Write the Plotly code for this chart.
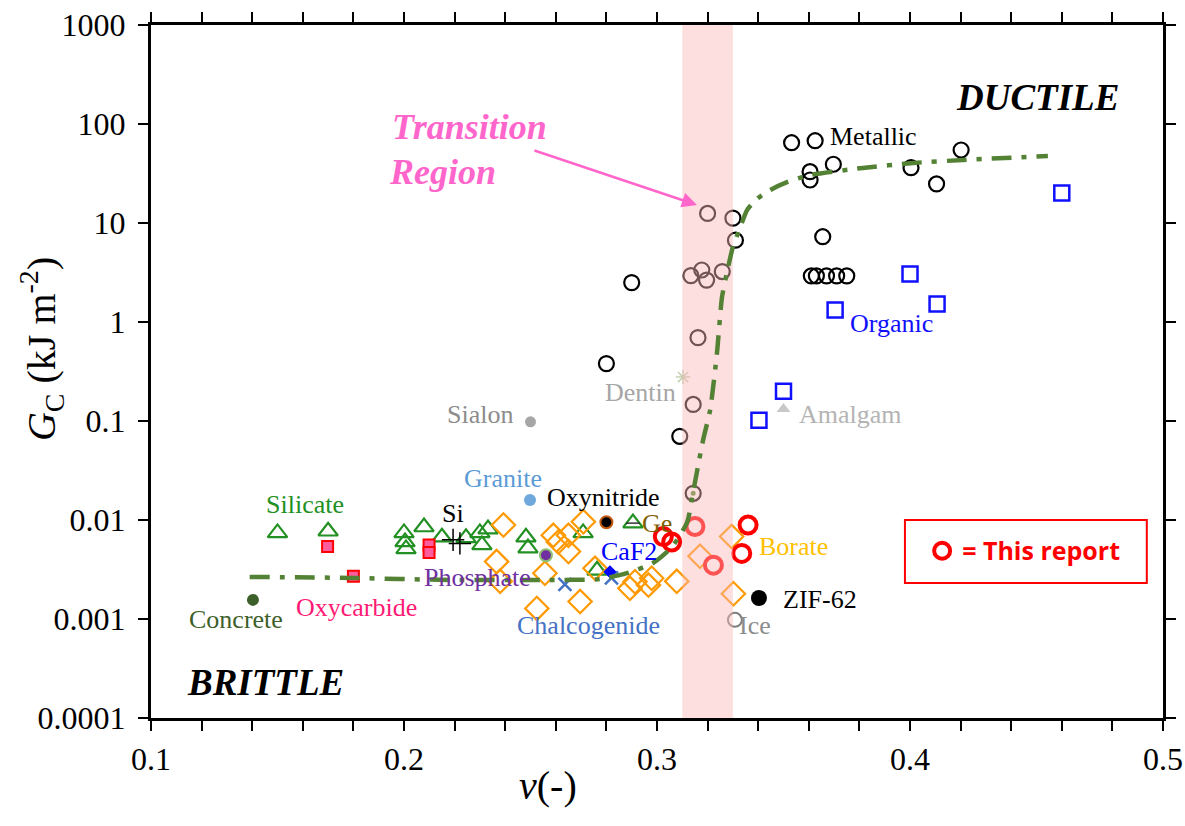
import numpy as np
import plotly.graph_objects as go

# ---------------- data ----------------
x_ticks = [0.1, 0.2, 0.3, 0.4, 0.5]
x_ticktext = ["0.1", "0.2", "0.3", "0.4", "0.5"]
y_ticks = [1e-4, 1e-3, 1e-2, 1e-1, 1, 10, 100, 1000]
y_ticktext = ["0.0001", "0.001", "0.01", "0.1", "1", "10", "100", "1000"]

metal_nu = [0.280, 0.290, 0.309, 0.3143, 0.3162, 0.3134, 0.3177, 0.3196, 0.3258,
            0.320, 0.330, 0.331, 0.3532, 0.3625, 0.3605, 0.3605, 0.3697, 0.3655,
            0.361, 0.363, 0.367, 0.371, 0.375, 0.4004, 0.4105, 0.4202]
metal_gc = [0.38, 2.5, 0.07, 0.147, 0.695, 2.94, 3.35, 2.65, 3.23,
            12.5, 11.2, 6.7, 64.7, 67.8, 33.0, 27.2, 39.2, 7.27,
            2.92, 2.92, 2.92, 2.92, 2.92, 36.2, 24.8, 54.6]

dot_nu = [0.3143]
dot_gc = [0.0186]

organic_nu = [0.3403, 0.350, 0.3704, 0.400, 0.4107, 0.460]
organic_gc = [0.102, 0.200, 1.32, 3.05, 1.52, 20.1]

silicate_nu = [0.150, 0.170, 0.200, 0.2004, 0.2008, 0.2079, 0.2150, 0.2245, 0.2300,
               0.2308, 0.2332, 0.2482, 0.2490, 0.2708, 0.2763]
silicate_gc = [0.0074, 0.0077, 0.0074, 0.0060, 0.0051, 0.0085, 0.0067, 0.0066, 0.0074,
               0.0056, 0.0081, 0.0067, 0.0052, 0.0074, 0.0031]

borate_nu = [0.2366, 0.2380, 0.2393, 0.2525, 0.2557, 0.2590, 0.2610, 0.2650, 0.2650,
             0.2696, 0.2709, 0.2755, 0.2893, 0.2913, 0.2966, 0.2979, 0.3078, 0.3170,
             0.3295, 0.3302]
borate_gc = [0.0038, 0.0024, 0.0089, 0.00128, 0.0029, 0.0070, 0.0060, 0.0070, 0.0048,
             0.0015, 0.0096, 0.00325, 0.00204, 0.00238, 0.0022, 0.00258, 0.0024, 0.0043,
             0.0068, 0.0018]

oxycarbide_nu = [0.1698, 0.180, 0.2099, 0.2099]
oxycarbide_gc = [0.0054, 0.0027, 0.0056, 0.0047]

report_nu = [0.3025, 0.3058, 0.3150, 0.3223, 0.3335, 0.3360]
report_gc = [0.0068, 0.0060, 0.0086, 0.0035, 0.0046, 0.0089]

si_nu = [0.2194, 0.2221]
si_gc = [0.0063, 0.0058]
ge_nu = [0.2905]
ge_gc = [0.0093]
chalco_nu = [0.2636, 0.2820]
chalco_gc = [0.00224, 0.0026]
caf2_nu = [0.2814]
caf2_gc = [0.0030]
phosphate_nu = [0.2561]
phosphate_gc = [0.0044]
oxynitride_nu = [0.280]
oxynitride_gc = [0.0095]
granite_nu = [0.2498]
granite_gc = [0.0159]
sialon_nu = [0.250]
sialon_gc = [0.098]
concrete_nu = [0.1403]
concrete_gc = [0.00156]
zif_nu = [0.3403]
zif_gc = [0.00163]
ice_nu = [0.3308]
ice_gc = [0.00098]
dentin_nu = [0.3103]
dentin_gc = [0.278]
amalgam_nu = [0.350]
amalgam_gc = [0.132]

trend_nu = [0.139, 0.1787, 0.2182, 0.2577, 0.2775, 0.2881, 0.2984, 0.3058, 0.3119,
            0.3142, 0.3182, 0.3210, 0.3237, 0.3257, 0.3277, 0.3300, 0.3328, 0.3356,
            0.3395, 0.3447, 0.3514, 0.3605, 0.3814, 0.4012, 0.4210, 0.4545]
trend_gc = [0.00266, 0.0026, 0.00248, 0.00248, 0.00253, 0.0029, 0.00368, 0.0053, 0.0095,
            0.0187, 0.064, 0.129, 0.486, 1.79, 3.2, 5.73, 8.9, 13.5,
            17.5, 21.5, 25.9, 30.5, 36.0, 40.4, 43.3, 47.5]

transition_nu = [0.31, 0.33]
y_range_vals = [1e-4, 1e3]

SERIF = "Liberation Serif"

fig = go.Figure()


def add(x, y, name, symbol, size, color, lw=2, linecolor=None, legend=False):
    fig.add_trace(go.Scatter(
        x=x, y=y, mode="markers", name=name, showlegend=legend,
        marker=dict(symbol=symbol, size=size, color=color,
                    line=dict(width=lw, color=linecolor if linecolor else color)),
        hoverinfo="x+y+name"))


add(metal_nu, metal_gc, "Metallic", "circle-open", 15, "black", 2.2)
add(dot_nu, dot_gc, "Metallic", "circle-open", 15, "black", 2.2)
add(dot_nu, dot_gc, "Metallic", "circle", 5, "#4e8a2e", 0)
add(organic_nu, organic_gc, "Organic", "square-open", 15, "#1010ff", 2.5)
add(silicate_nu, silicate_gc, "Silicate", "triangle-up-open", 17, "#229022", 2.2)
add(ge_nu, ge_gc, "Ge", "triangle-up-open", 17, "#229022", 2.2)
add(ge_nu, ge_gc, "Ge", "line-ew-open", 10, "#333333", 1.5)
add(borate_nu, borate_gc, "Borate", "diamond-open", 18, "#ff9900", 2.2)
add(oxycarbide_nu, oxycarbide_gc, "Oxycarbide", "square", 11, "#ff5c9d", 2, "#ff0000")
add(si_nu, si_gc, "Si", "cross-thin-open", 16, "black", 1.5)
add(chalco_nu, chalco_gc, "Chalcogenide", "x-thin-open", 13, "#4472c4", 2.5)
add(caf2_nu, caf2_gc, "CaF2", "diamond", 10, "#0000ff", 0)
add(phosphate_nu, phosphate_gc, "Phosphate", "circle", 12, "#7030a0", 2, "#8fbf70")
add(oxynitride_nu, oxynitride_gc, "Oxynitride", "circle", 12, "black", 2, "#c55a11")
add(granite_nu, granite_gc, "Granite", "circle", 12, "#6fa8dc", 0)
add(sialon_nu, sialon_gc, "Sialon", "circle", 11, "#a6a6a6", 0)
add(concrete_nu, concrete_gc, "Concrete", "circle", 12, "#3d5f2a", 0)
add(zif_nu, zif_gc, "ZIF-62", "circle", 16, "black", 0)
add(ice_nu, ice_gc, "Ice", "circle-open", 14, "#7f7f7f", 2)
add(dentin_nu, dentin_gc, "Dentin", "asterisk-open", 12, "#c3cfb0", 1.5)
add(amalgam_nu, amalgam_gc, "Amalgam", "triangle-up", 12, "#c8c8c8", 0)
add(report_nu, report_gc, "= This report", "circle-open", 17, "#ff0000", 4, legend=True)

# transition region (semi-transparent overlay drawn above the markers)
fig.add_trace(go.Scatter(
    x=[transition_nu[0], transition_nu[1], transition_nu[1], transition_nu[0], transition_nu[0]],
    y=[y_range_vals[0], y_range_vals[0], y_range_vals[1], y_range_vals[1], y_range_vals[0]],
    mode="lines", fill="toself", fillcolor="rgba(250,185,185,0.45)",
    line=dict(width=0, color="rgba(0,0,0,0)"), showlegend=False, hoverinfo="skip"))

# trend line
fig.add_trace(go.Scatter(
    x=trend_nu, y=trend_gc, mode="lines", showlegend=False,
    line=dict(color="#548235", width=4.5, dash="20px,10px,5px,10px", shape="spline", smoothing=0.6),
    hoverinfo="skip"))

# ---------------- labels ----------------
def lab(text, x, gc, color, size=26, xanchor="center", font=SERIF, **kw):
    fig.add_annotation(x=x, y=np.log10(gc), xref="x", yref="y", text=text,
                       showarrow=False, xanchor=xanchor, yanchor="middle",
                       font=dict(family=font, size=size, color=color), **kw)


lab("Metallic", 0.3854, 74, "black")
lab("Organic", 0.3925, 0.955, "#1010ff")
lab("Amalgam", 0.3763, 0.115, "#b4b4b4")
lab("Dentin", 0.2933, 0.196, "#a6a6a6")
lab("Sialon", 0.230, 0.115, "#8c8c8c")
lab("Granite", 0.2391, 0.0265, "#5b9bd5")
lab("Oxynitride", 0.2787, 0.0167, "black")
lab("Ge", 0.3000, 0.0093, "#7f6000")
lab("Si", 0.2194, 0.0115, "black")
lab("Silicate", 0.1609, 0.0142, "#229022")
lab("Phosphate", 0.2292, 0.00265, "#7030a0")
lab("CaF2", 0.2889, 0.00486, "#0000ff")
lab("Chalcogenide", 0.2731, 0.00085, "#4472c4")
lab("Concrete", 0.1336, 0.0010, "#3d5f2a")
lab("Oxycarbide", 0.1814, 0.00132, "#ff1a75")
lab("Borate", 0.3538, 0.00546, "#ffc000")
lab("ZIF-62", 0.3644, 0.00156, "black")
lab("Ice", 0.3387, 0.00085, "#8c8c8c")
lab("<b><i>DUCTILE</i></b>", 0.4502, 187.0, "black", size=37)
lab("<b><i>BRITTLE</i></b>", 0.1451, 0.000226, "black", size=37)
lab("<b><i>Transition</i></b>", 0.1945, 93.3, "#ff66cc", size=36, xanchor="left")
lab("<b><i>Region</i></b>", 0.1933, 32.7, "#ff66cc", size=36, xanchor="left")

# arrow for transition region
fig.add_annotation(x=0.3158, y=np.log10(15.2), xref="x", yref="y", text="",
                   showarrow=True, arrowhead=2, arrowsize=1.2, arrowwidth=2.5,
                   arrowcolor="#ff66cc", ax=-164, ay=-55, axref="pixel", ayref="pixel")

# axis titles as annotations
fig.add_annotation(x=-0.108, y=0.532, xref="paper", yref="paper", textangle=-90,
                   text="<i>G</i><sub>C</sub> (kJ m<sup>-2</sup>)", showarrow=False,
                   xanchor="center", yanchor="middle",
                   font=dict(family=SERIF, size=40, color="black"))
fig.add_annotation(x=0.392, y=-0.097, xref="paper", yref="paper",
                   text="<i>ν</i>(-)", showarrow=False, xanchor="center", yanchor="middle",
                   font=dict(family=SERIF, size=40, color="black"))

# legend box
fig.add_shape(type="rect", xref="paper", yref="paper", x0=0.745, x1=0.984, y0=0.1948, y1=0.2857,
              line=dict(color="#ff0000", width=2), fillcolor="white", layer="below")

tick_font = dict(family=SERIF, size=32, color="black")
common_x = dict(range=[0.1, 0.5], tickvals=x_ticks, ticklen=10, tickwidth=2, tickcolor="black",
                showgrid=False, zeroline=False, showline=True, linewidth=3, linecolor="black",
                mirror="ticks", automargin=False)
common_y = dict(type="log", range=[-4, 3], tickvals=y_ticks, ticklen=10, tickwidth=2,
                tickcolor="black", showgrid=False, zeroline=False, showline=True, linewidth=3,
                linecolor="black", mirror="ticks", automargin=False)

fig.update_layout(
    width=1185, height=826,
    margin=dict(l=151, r=22, t=25, b=108, autoexpand=False),
    plot_bgcolor="white", paper_bgcolor="white",
    xaxis=dict(**common_x, ticks="outside", ticktext=x_ticktext, tickfont=tick_font,
               ticklabelstandoff=1,
               minor=dict(dtick=0.02, tick0=0.1, ticks="outside", ticklen=10, tickwidth=2,
                          tickcolor="black")),
    yaxis=dict(**common_y, ticks="outside", ticktext=y_ticktext, tickfont=tick_font,
               ticklabelstandoff=6),
    xaxis2=dict(**common_x, ticks="inside", overlaying="x", anchor="y", side="bottom",
                showticklabels=False,
                minor=dict(dtick=0.02, tick0=0.1, ticks="inside", ticklen=10, tickwidth=2,
                           tickcolor="black")),
    yaxis2=dict(**common_y, ticks="inside", overlaying="y", anchor="x", side="left",
                showticklabels=False),
    legend=dict(x=0.762, y=0.241, xanchor="left", yanchor="middle", bgcolor="rgba(0,0,0,0)",
                borderwidth=0, font=dict(family="Open Sans", size=25, color="#ff0000", weight="bold")),
    showlegend=True,
)

fig.write_html("out.html")
